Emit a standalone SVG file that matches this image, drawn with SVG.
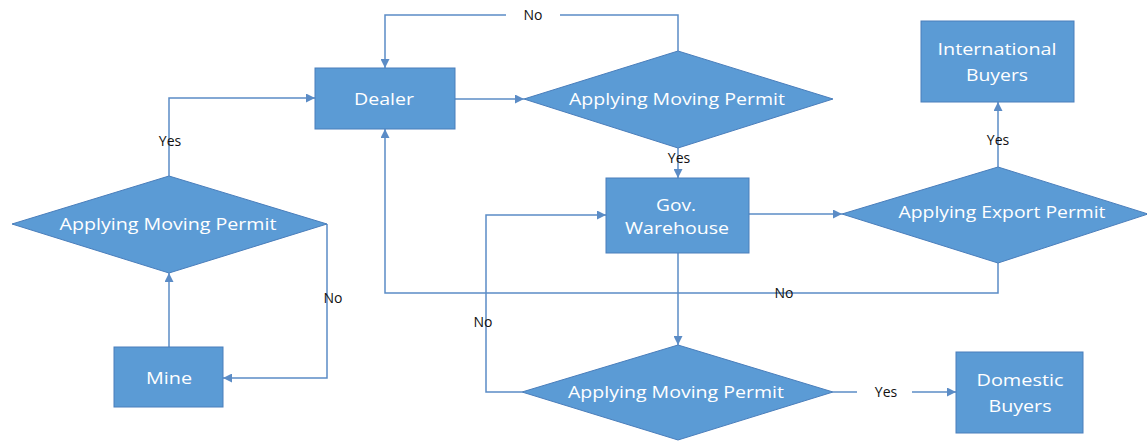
<svg xmlns="http://www.w3.org/2000/svg" width="1147" height="441" viewBox="0 0 1147 441">
<defs>
<marker id="ah" viewBox="0 0 10 10" refX="10" refY="5" markerWidth="9" markerHeight="9" markerUnits="userSpaceOnUse" orient="auto">
<path d="M0,0 L10,5 L0,10 z" fill="#5B8CC6"/>
</marker>
<style>
.box{fill:#5B9BD5;stroke:#4A7EBB;stroke-width:1}
.t{fill:#ffffff;font-family:"Open Sans","Liberation Sans",sans-serif;font-size:17px;text-anchor:middle}
.c{fill:none;stroke:#5B8CC6;stroke-width:1.5}
.a{marker-end:url(#ah)}
.l{fill:#111111;font-family:"Open Sans","Liberation Sans",sans-serif;font-size:14px;text-anchor:middle}
</style>
</defs>
<rect width="1147" height="441" fill="#ffffff"/>
<g id="connectors">
<polyline class="c a" points="169,176 169,98 315,98"/>
<polyline class="c a" points="327,224 327,378 223,378"/>
<polyline class="c a" points="169,347 169,273"/>
<polyline class="c" points="678,51 678,15 560,15"/>
<polyline class="c a" points="506,15 385,15 385,68"/>
<polyline class="c a" points="998,263 998,293 385,293 385,129"/>
<polyline class="c a" points="455,99 524,99"/>
<polyline class="c a" points="678,148 678,178"/>
<polyline class="c a" points="749,214 842,214"/>
<polyline class="c a" points="998,167 998,102"/>
<polyline class="c a" points="678,253 678,345"/>
<polyline class="c a" points="522,392 486,392 486,215 606,215"/>
<polyline class="c" points="833,392 857,392"/>
<polyline class="c a" points="912,392 956,392"/>
<text class="l" x="170" y="146">Yes</text>
<text class="l" x="333" y="303">No</text>
<text class="l" x="533" y="20">No</text>
<text class="l" x="679" y="163">Yes</text>
<text class="l" x="998" y="145">Yes</text>
<text class="l" x="784" y="298">No</text>
<text class="l" x="483" y="327">No</text>
<text class="l" x="886" y="397">Yes</text>
</g>
<g id="dealer">
<rect class="box" x="315" y="68" width="140" height="61"/>
<text class="t" x="384" y="105" textLength="60" lengthAdjust="spacingAndGlyphs">Dealer</text>
</g>
<g id="permit-mine">
<polygon class="box" points="12,224 169,176 327,224 169,273"/>
<text class="t" x="168" y="230" textLength="217" lengthAdjust="spacingAndGlyphs">Applying Moving Permit</text>
</g>
<g id="mine">
<rect class="box" x="114" y="347" width="109" height="60"/>
<text class="t" x="169" y="384" textLength="46" lengthAdjust="spacingAndGlyphs">Mine</text>
</g>
<g id="permit-dealer">
<polygon class="box" points="524,99 678,51 833,99 678,148"/>
<text class="t" x="677" y="105" textLength="216" lengthAdjust="spacingAndGlyphs">Applying Moving Permit</text>
</g>
<g id="warehouse">
<rect class="box" x="606" y="178" width="143" height="75"/>
<text class="t" x="676" y="211" textLength="40" lengthAdjust="spacingAndGlyphs">Gov.</text>
<text class="t" x="677" y="234" textLength="104" lengthAdjust="spacingAndGlyphs">Warehouse</text>
</g>
<g id="export-permit">
<polygon class="box" points="842,214 998,167 1148,214 998,263"/>
<text class="t" x="1002" y="218" textLength="207" lengthAdjust="spacingAndGlyphs">Applying Export Permit</text>
</g>
<g id="international">
<rect class="box" x="921" y="21" width="153" height="81"/>
<text class="t" x="997" y="55" textLength="119" lengthAdjust="spacingAndGlyphs">International</text>
<text class="t" x="997" y="81" textLength="62" lengthAdjust="spacingAndGlyphs">Buyers</text>
</g>
<g id="permit-warehouse">
<polygon class="box" points="522,392 678,345 833,392 678,440"/>
<text class="t" x="676" y="398" textLength="216" lengthAdjust="spacingAndGlyphs">Applying Moving Permit</text>
</g>
<g id="domestic">
<rect class="box" x="956" y="352" width="127" height="81"/>
<text class="t" x="1020" y="386" textLength="87" lengthAdjust="spacingAndGlyphs">Domestic</text>
<text class="t" x="1020" y="412" textLength="63" lengthAdjust="spacingAndGlyphs">Buyers</text>
</g>
</svg>
